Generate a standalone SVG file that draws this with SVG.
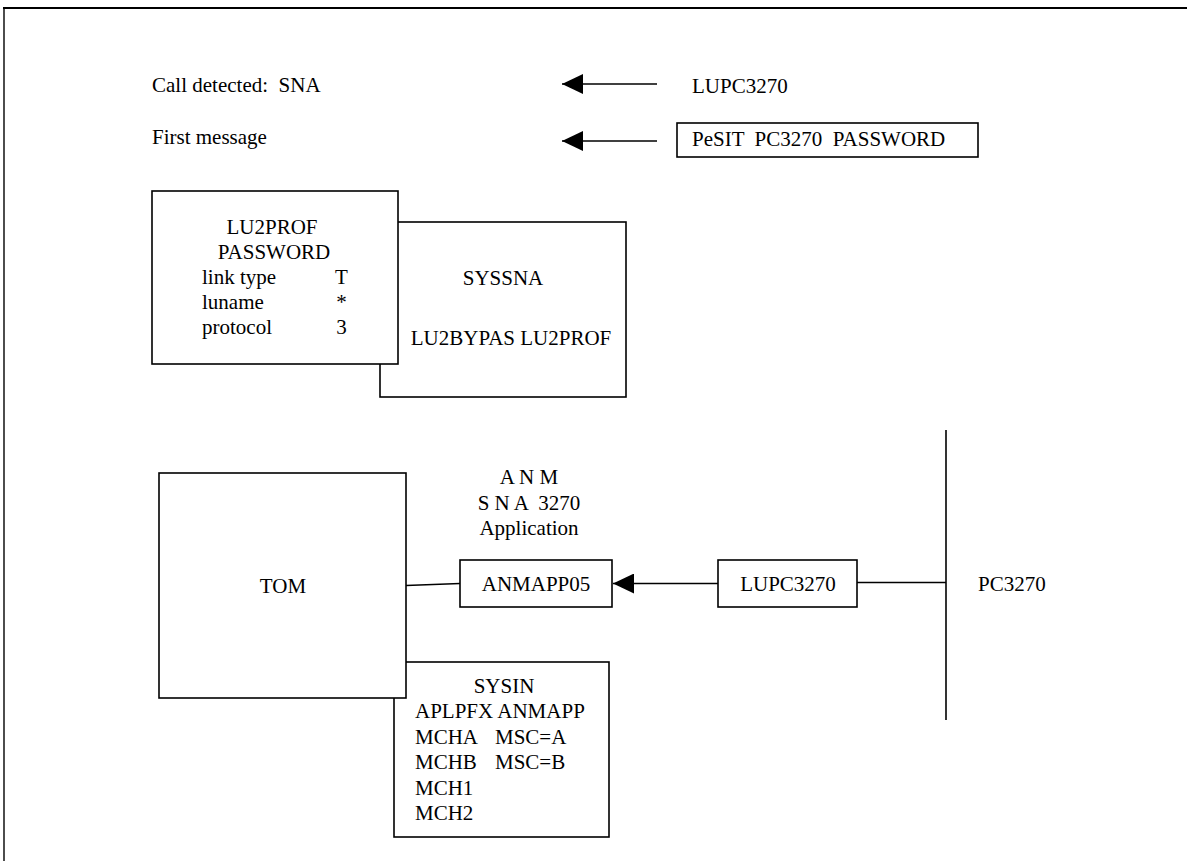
<svg xmlns="http://www.w3.org/2000/svg" width="1187" height="861" viewBox="0 0 1187 861">
<style>
text{font-family:"Liberation Serif","Times New Roman",serif;font-size:21px;fill:#000}
.box{fill:#fff;stroke:#000;stroke-width:1.6}
.ln{fill:none;stroke:#000;stroke-width:1.6}
.c{text-anchor:middle}
</style>
<defs>
<marker id="ah" markerUnits="userSpaceOnUse" markerWidth="22" markerHeight="20" refX="21" refY="10" orient="auto">
<path d="M0,0 L21,10 L0,20 Z" fill="#000"/>
</marker>
</defs>
<rect width="1187" height="861" fill="#fff"/>
<g id="frame">
<line x1="3" y1="8" x2="1187" y2="8" stroke="#000" stroke-width="2.2"/>
<line x1="4" y1="7" x2="4" y2="861" stroke="#000" stroke-width="1.4"/>
</g>
<g id="connectors">
<line class="ln" x1="657" y1="84" x2="562" y2="84" marker-end="url(#ah)"/>
<line class="ln" x1="657" y1="141" x2="562" y2="141" marker-end="url(#ah)"/>
<line class="ln" x1="406" y1="585.5" x2="460" y2="583.5"/>
<line class="ln" x1="719" y1="583.5" x2="613" y2="583.5" marker-end="url(#ah)"/>
<line class="ln" x1="857" y1="582.5" x2="946" y2="582.5"/>
<line class="ln" x1="946" y1="430" x2="946" y2="720"/>
</g>
<g id="label-call">
<text x="152" y="92" xml:space="preserve">Call detected:  SNA</text>
</g>
<g id="label-first">
<text x="152" y="144">First message</text>
</g>
<g id="label-lupc">
<text x="692" y="93">LUPC3270</text>
</g>
<g id="pesit">
<rect class="box" x="677" y="123" width="301" height="34"/>
<text x="692" y="146" xml:space="preserve">PeSIT  PC3270  PASSWORD</text>
</g>
<g id="syssna">
<rect class="box" x="380" y="222" width="246" height="175"/>
<text class="c" x="503" y="285">SYSSNA</text>
<text class="c" x="511" y="345">LU2BYPAS LU2PROF</text>
</g>
<g id="lu2prof">
<rect class="box" x="152" y="191" width="246" height="173"/>
<text class="c" x="272" y="234">LU2PROF</text>
<text class="c" x="274" y="259">PASSWORD</text>
<text x="202" y="284">link type</text>
<text class="c" x="341.5" y="284">T</text>
<text x="202" y="309">luname</text>
<text class="c" x="341.5" y="309">*</text>
<text x="202" y="334">protocol</text>
<text class="c" x="341.5" y="334">3</text>
</g>
<g id="sysin">
<rect class="box" x="394" y="662" width="215" height="175"/>
<text class="c" x="504" y="693">SYSIN</text>
<text x="415" y="718">APLPFX ANMAPP</text>
<text x="415" y="744">MCHA</text>
<text x="495" y="744">MSC=A</text>
<text x="415" y="769">MCHB</text>
<text x="495" y="769">MSC=B</text>
<text x="415" y="795">MCH1</text>
<text x="415" y="820">MCH2</text>
</g>
<g id="tom">
<rect class="box" x="159" y="473" width="247" height="225"/>
<text class="c" x="283" y="593">TOM</text>
</g>
<g id="anm-label">
<text class="c" x="529" y="484">A N M</text>
<text class="c" x="529" y="510" xml:space="preserve">S N A  3270</text>
<text class="c" x="529" y="535">Application</text>
</g>
<g id="anmapp05">
<rect class="box" x="460" y="560" width="152" height="47"/>
<text class="c" x="536" y="591">ANMAPP05</text>
</g>
<g id="lupc3270">
<rect class="box" x="718" y="560" width="139" height="47"/>
<text class="c" x="788" y="591">LUPC3270</text>
</g>
<g id="pc3270">
<text x="978" y="591">PC3270</text>
</g>
</svg>
